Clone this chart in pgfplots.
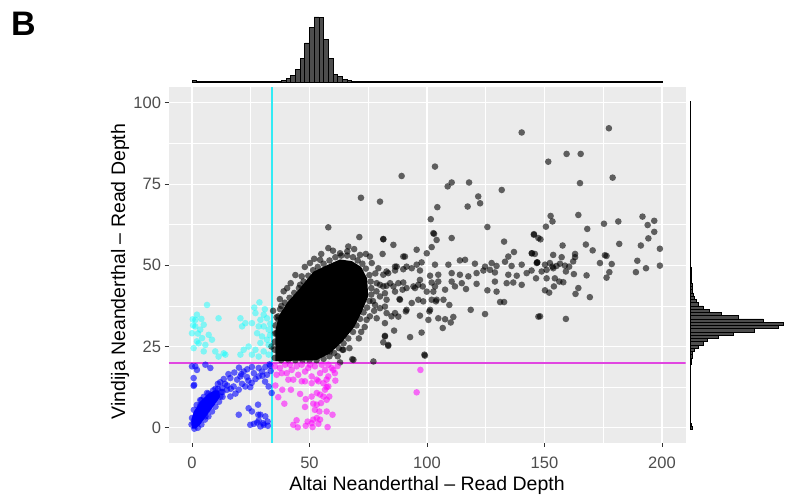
\documentclass[border=0pt]{standalone}
\usepackage{fontspec}
\setmainfont{Liberation Sans}
\usepackage{pgfplots}
\pgfplotsset{compat=1.18}
\definecolor{panelbg}{RGB}{235,235,235}
\definecolor{ticklab}{RGB}{77,77,77}
\definecolor{tickcol}{RGB}{51,51,51}
\definecolor{cyanpt}{RGB}{0,255,255}
\definecolor{bluept}{RGB}{0,0,255}
\definecolor{magpt}{RGB}{255,0,255}
\definecolor{histfill}{RGB}{77,77,77}
\definecolor{cyanline}{RGB}{50,235,245}
\definecolor{magline}{RGB}{225,70,225}
\pgfplotsset{pts/.style 2 args={only marks, mark=*, mark size=3.3pt, color=#1, mark options={fill=#1, fill opacity=#2, draw opacity=0}}}
\begin{document}
\begin{tikzpicture}[x=1pt,y=1pt]
\useasboundingbox (0,0) rectangle (785,500);
\node[anchor=base west, inner sep=0, font=\fontsize{34}{36}\selectfont\bfseries] at (11,464) {B};
\begin{axis}[
  at={(168.5pt,57pt)}, anchor=south west, scale only axis,
  width=517pt, height=356pt,
  xmin=-10, xmax=210, ymin=-4.7, ymax=104.9,
  xtick={0,50,100,150,200}, ytick={0,25,50,75,100},
  minor xtick={25,75,125,175}, minor ytick={12.5,37.5,62.5,87.5},
  grid=both,
  major grid style={white, line width=1.1pt},
  minor grid style={white, line width=0.55pt},
  axis background/.style={fill=panelbg},
  axis line style={draw=none},
  tick align=outside, major tick length=4pt, minor tick length=0pt,
  every tick/.style={tickcol, line width=1pt},
  xtick pos=bottom, ytick pos=left,
  tick label style={font=\fontsize{16.5}{18}\selectfont, text=ticklab, /pgf/number format/assume math mode=true},
  xticklabel style={yshift=-6pt},
  xlabel={Altai Neanderthal – Read Depth},
  ylabel={Vindija Neanderthal – Read Depth},
  every axis x label/.style={at={(axis description cs:0.5,0)}, anchor=base, yshift=-47.8pt, font=\fontsize{19.5}{22}\selectfont},
  every axis y label/.style={at={(axis description cs:-0.0841,0.4817)}, anchor=base, rotate=90, font=\fontsize{19.5}{22}\selectfont},
]
% dense core of the black cloud
\addplot[fill=black, draw=none] coordinates {(35.5,20.5) (35.5,30) (37,34.5) (40.5,38.5) (46,43) (51.6,48) (57.3,50) (63,51.8) (68,51.3) (72,49.5) (74.5,46) (75,40.5) (72,35.3) (69,31) (64,26.5) (58.5,22.8) (53,20.8)};
% black points
\addplot[pts={black}{0.6}] coordinates {
(140.3,90.9) (103.4,80.4) (89.2,77.5) (110.5,75.5) (108.8,74.3) (117.9,75.5) (131.8,73.2) (121.8,71.2) (122.6,69.1) (117.3,68.1) (104.4,67.9) (101.6,64.2) (80,69.6) (71.9,70.8) (125.7,61.8) (103,59.7) (104.1,57.8) (110.5,58.4) (132.8,57.3) (145.5,59.6) (147.4,58.4) (81.4,58.1) (85.7,56.3) (81.1,53.5) (102,55.6) (99.9,53.7) (95.6,54.8) (90.6,52.7) (137,54.1) (144.6,53.7) (134.6,52.7) (146.9,50.9) (146.4,46)
(88.3,39.6) (93.5,38.4) (101,35.8) (103.8,38.9) (107,39.4) (109.5,37.8) (111.2,34.1) (104.8,33.7) (107.7,33.4) (106.7,30.7) (110.1,32.4) (118.6,36.3) (124.7,35) (131.1,38.7) (132.8,38.7) (147.4,34.2) (97,34.5) (100.6,33.2) (86,29.9) (92.8,27.9) (97.7,29.3) (99.1,22.2) (82.1,28.3) (83.5,25.5) (82.1,32.2) (86.4,35.3) (87.8,34.2) (82.1,37.3) (91,35.8)
(87.1,49.6) (91.3,49.6) (95.6,50.2) (97.7,50.9) (103.4,50.2) (109.1,50.2) (114,51.5) (116.2,51.7) (120.4,50.5) (124.7,49.6) (127.5,50.7) (129.6,49.8) (133.2,51.1) (136,49.8) (140.3,50.2) (144.5,48.4) (146.7,50.7)
(81.4,47.1) (83.5,47.6) (86.4,48.4) (89.9,48.8) (93.5,49.1) (97,48.4) (101.3,46.8) (104.8,47.1) (110.5,47.6) (114,47.1) (117.6,46.6) (121.1,47.6) (124,48.4) (126.8,48.6) (128.9,47.8) (134.6,47.1) (138.2,46.8) (142.4,47.6)
(80,44) (82.8,43.7) (85.7,43.5) (89.9,44.7) (94.2,43.5) (97,45.5) (102,44.7) (104.8,45) (110.5,45) (111.9,43.5) (114.8,44.5) (116.6,42.7) (121.1,44.3) (125.7,42.3) (128.9,45) (129.6,41.9) (133.9,44.5) (136.7,44.7) (140.3,44)
(82.1,41.4) (86.4,41.9) (89.6,42.5) (94.9,43) (98.2,43.5) (102.7,41.9) (107.7,42.5)
(177.4,92.2) (159.4,84.3) (165.4,84.3) (151.6,81.9) (179,77) (165.1,75.3) (152.6,65.2) (153.4,63.5) (164.4,65.5) (150.6,61.9) (168.2,61.2) (175.3,62.8) (181.4,63.5) (191.7,65) (193.9,62.4) (196.7,63.7) (196.7,60.3) (194.2,58.3) (191,56.1) (199.1,55.1) (181.8,56.6) (145.5,59.4) (148.3,58) (157.7,56.1) (167.6,56.4) (170.5,54.6) (175.7,53.1) (176.4,52.9) (173.6,50.7) (178.6,50.4) (177.6,47.9) (176.4,46.2) (189.5,51.4) (193.2,49.1) (199.1,49.9) (188.9,47.9) (144.6,53.7) (145.9,53.5) (153.7,53.2) (157.3,52.5) (163,53.5) (163,52.5) (162.2,51.2) (146.9,50.9) (150.2,50.2) (152.3,50.7) (153.4,49.6) (155.1,49.8) (156.6,50.5) (158.7,49.9) (160.5,49.6) (148.8,48.1) (150.9,48.6) (153.7,49.1) (159.1,48.1) (162.5,47.3) (167.9,46.9) (150.9,46) (154.4,46) (156.3,45) (158,44.8) (150.2,42.3) (152,41.6) (154,43.5) (164.4,43) (163.2,41.2) (169.3,40.2) (148.1,34.3) (159.1,33.5)
(58,61.7) (71.2,58.7) (58,55.3) (66.5,55.8) (66.1,54.3) (63,53.7) (50.2,50.7) (54.5,51.7) (46.7,46.6) (46,44) (37.4,39.6) (36.7,34.3) (36.7,33.2) (36,29.1) (71.5,53.2) (75.7,52.7) (76.5,50.7) (81.4,58) (79.3,49.1) (82.8,48.1) (86.4,49.6) (89.9,52.7) (102.7,59.9) (78.6,44.5) (81.4,43.5) (84.3,44.5) (87.8,44.5) (91.3,43) (96.3,44) (99.9,41.9) (103.4,43.5) (80,40.4) (82.8,39.4) (88.5,39.4) (96.3,39.4) (98.4,38.9) (102,39.4) (104.1,39.4) (77.9,37.8) (80,36.8) (82.8,35.3) (84.9,34.3) (91.3,36.3) (101.3,36.3) (75.7,34.3) (74.3,33.2) (78.6,33.7) (82.1,28.1) (81.4,26.3) (83.5,25.2) (98.9,22.5) (64.4,24) (68.7,20.9) (77.2,20.4) (58.7,23.5) (64,24) (68.2,21.1) (63,20.1)
(35.2,21.5) (35.2,24) (35.3,26.5) (35.3,29) (35.5,31.5) (36,34) (37.5,36.5) (39.5,38.5) (41.5,40) (43.5,41.5) (45.5,43) (47.5,45) (49.5,46.8) (51.5,48.5) (53.5,49.5) (56,50.5) (58.5,51.5) (61,52.5) (63.5,53) (66,53) (68.5,52.5) (70.5,51.5) (72.5,50.5) (74,49) (75.5,47) (76,45) (76.3,43) (76.3,41) (75.5,39) (74.5,37) (73,35.5) (71.5,33.5) (70,31.5) (68.5,29.5) (66.5,27.5) (64.5,26) (62.5,24.5) (60.5,23) (58.5,22) (56,21.2) (53,20.8) (50,20.8) (47,20.8) (44,20.8) (41,20.8) (38,20.8)
(39,42) (42,44.5) (44,47) (48,49.5) (52,52) (60,54.5) (69,55) (74,53.5) (78,47.5) (78.5,42) (77.5,36) (73.5,31) (71,27.5) (67,24.5) (62,22) (38,37.5) (33.8,25) (34.5,36) (40.5,43) (55,53.5) (77,39) (72,29.5)
};
% cyan points
\addplot[pts={cyanpt}{0.45}] coordinates {
(6.4,37.8) (28.7,38.6) (0.3,33.4) (2.1,34.8) (1.4,31.2) (3.5,30.2) (5,31.7) (11.3,33.7) (0,29.1) (2.1,26.6) (4.3,27.6) (5.7,25.5) (8.5,27.1) (0.7,24.5) (5,23.5) (9.9,23.5) (13.5,22.9) (11.3,21.9) (14.2,22.5) (20.6,33.7) (21.3,31.2) (22.7,32.2) (27,35.3) (29.1,33.2) (30.5,34.8) (31.9,33.7) (25.5,32.2) (28.4,31.2) (30.5,31.2) (32.6,30.2) (27.7,29.1) (29.8,28.1) (31.9,27.1) (29.1,26.1) (32.6,25.5) (27,24) (30.5,23.5) (32.6,22.5) (24.1,25) (22,24) (20.6,22.5) (25.5,22.5) (28.4,21.9) (2.8,26) (7.1,28.6) (1.4,33.2) (0.5,31.5) (33.2,28.5) (33.3,32) (31,36.5) (26.5,37) (2.5,29) (4,33.5)
};
% blue core and points
\addplot[fill=bluept, draw=none] coordinates {(0,-0.3) (-0.3,2.5) (0.8,5) (3.5,8) (6.5,10.2) (9.5,11.5) (11.5,11.3) (12,9.5) (9,6.5) (6,3.5) (3.5,1) (1.5,-0.3)};
\addplot[pts={bluept}{0.6}] coordinates {
(1.4,18.9) (5.7,19.4) (7.8,18.4) (2.1,17.8) (0.7,15.3) (0.7,12.9) (22,17.3) (25.5,18.7) (28.4,18.4) (31.2,18.7) (33.3,19.1) (20.6,15.8) (23.4,15.6) (26.3,16.8) (28.4,15.8) (31.9,16.3) (29.8,17.3) (13.5,15) (16.3,15.3) (19.2,14.8) (17.7,12.7) (21.3,13.5) (22.7,12.7) (24.8,12.5) (32.6,12.7) (12.8,12.2) (14.9,11.7) (19.9,11.7) (16.3,9.6) (12.1,9.6) (9.2,9.1) (19.9,4) (25.5,5) (24.1,6) (28.1,7.1) (29.1,4) (24.8,0.9) (26.3,1.2) (27.7,1.6) (29.1,0.4) (30.5,0.9) (32.3,0.6) (31.2,3.5) (28.4,2.2) (5.7,6.6) (5,5) (8.5,7.6) (10.6,10.7) (6.4,10.7) (3.6,7) (2.1,4.5) (2.8,2.5) (0.7,1.4) (5.7,3.5) (0,18.9) (0.9,13.2) (25.4,13.8) (31.1,14.2) (33.9,10.7) (28.2,4) (30.3,1.4) (32.2,1.9) (33.5,17.5) (33,19.5) (18,17) (10,12) (8,10) (4,8.5) (11,13.5) (13,11) (15,13)
(-0.2,1) (0,3) (0.8,5.5) (2,7) (3.5,8.5) (5,9.5) (7,10.5) (9,11.5) (11,12) (12.5,11) (13,9.5) (11.5,8) (10,6.5) (8.5,5) (7,3.5) (5.5,2.5) (4,1) (2.5,0) (1,-0.3)
(14,13.5) (16.5,12) (18.5,10.5) (21,16.5) (23.5,18) (24,14.5) (27,15) (30,16) (15.5,16.5) (12,14) (20,18.5)
};
% magenta points
\addplot[pts={magpt}{0.55}] coordinates {
(97.2,17.8) (95.6,10.9) (57.3,12.5) (38.4,11.7) (42.1,11.7) (36.7,9.4) (46,10.4) (39.3,7.4) (48.4,8.8) (48.1,6.4) (54.5,10.2) (55.9,9.6) (58.4,9.6) (57.3,8.6) (51.6,7.4) (53.1,7.1) (54.9,7.6) (52.3,5.5) (54.2,5) (57.3,5) (59.8,4) (44.5,2.3) (49.2,1.9) (51.6,2.5) (53.1,3) (54.5,2.5) (50.9,1.4) (53.8,1.2) (57.7,0.2) (51.3,0.2) (48.4,0.6) (45,0.1) (43.1,0.9) (53.1,10.7) (50.9,9.6) (58,12.7) (56.6,11.7) (35.3,18.9) (38.2,16.8) (39.6,19.4) (42.4,17.8) (44.5,18.9) (45.2,16.3) (46.7,19.4) (48.1,17.3) (49.5,18.4) (50.9,15.8) (52.3,18.9) (53.1,14.8) (54.5,16.8) (55.2,19.4) (56.6,17.8) (58,15.8) (59.4,18.4) (60.8,16.8) (60.1,17.8) (37.4,18.4) (43.1,14.8) (48.1,14.3) (53.8,14.3) (57.3,14.8) (41,14.8) (50.9,13.7) (40.3,16.8) (36,16.3) (41.7,19.4) (50.2,19.4) (58,19.4) (46.7,14.3) (55.9,13.7) (62,19) (61,14.5) (35.5,13)
};
% threshold lines
\addplot[color=cyanline, line width=1.4pt] coordinates {(34,-4.7) (34,104.9)};
\addplot[color=magline, line width=1.6pt] coordinates {(-10,20) (210,20)};
\end{axis}
% top marginal histogram
\begin{axis}[at={(168.5pt,418pt)}, anchor=south west, scale only axis,
  width=517pt, height=65pt, xmin=-10, xmax=210, ymin=0, ymax=1, hide axis, clip=false]
\addplot[ybar interval, fill=histfill, draw=black, line width=0.8pt] coordinates {
(0,0.03) (2,0.015) (4,0.01) (6,0.008) (8,0.006) (10,0.005) (12,0.005) (14,0.005) (16,0.005) (18,0.005) (20,0.005) (22,0.005) (24,0.005) (26,0.005) (28,0.006) (30,0.007) (32,0.008) (34,0.01) (36,0.015) (38,0.025) (40,0.05) (42,0.10) (44,0.19) (46,0.36) (48,0.60) (50,0.84) (52,1.0) (54,0.99) (56,0.65) (58,0.36) (60,0.12) (62,0.08) (64,0.04) (66,0.025) (68,0.015) (70,0.01) (72,0.008) (74,0.006) (76,0.005) (78,0.005) (80,0.004) (82,0.004) (84,0.004) (86,0.004) (88,0.004) (90,0.004) (92,0.004) (94,0.004) (96,0.004) (98,0.004) (100,0.003) (102,0.003) (104,0.003) (106,0.003) (108,0.003) (110,0.003) (112,0.003) (114,0.003) (116,0.003) (118,0.003) (120,0.003) (122,0.003) (124,0.003) (126,0.003) (128,0.003) (130,0.003) (132,0.003) (134,0.003) (136,0.003) (138,0.003) (140,0.003) (142,0.003) (144,0.003) (146,0.003) (148,0.003) (150,0.003) (152,0.003) (154,0.003) (156,0.003) (158,0.003) (160,0.003) (162,0.003) (164,0.003) (166,0.003) (168,0.003) (170,0.003) (172,0.003) (174,0.003) (176,0.003) (178,0.003) (180,0.003) (182,0.003) (184,0.003) (186,0.003) (188,0.003) (190,0.003) (192,0.003) (194,0.003) (196,0.003) (198,0.003) (200,0)
};
\end{axis}
% right marginal histogram
\begin{axis}[at={(690pt,57pt)}, anchor=south west, scale only axis,
  width=93pt, height=356pt, xmin=0, xmax=1, ymin=-4.7, ymax=104.9, hide axis, clip=false]
\addplot[xbar interval, fill=histfill, draw=black, line width=0.6pt] coordinates {
(0.02,-0.5) (0.01,0.5) (0.006,1.5) (0.006,2.5) (0.006,3.5) (0.006,4.5) (0.006,5.5) (0.006,6.5) (0.006,7.5) (0.006,8.5) (0.006,9.5) (0.006,10.5) (0.006,11.5) (0.006,12.5) (0.006,13.5) (0.006,14.5) (0.006,15.5) (0.006,16.5) (0.006,17.5) (0.008,18.5) (0.01,19.5) (0.012,20.5) (0.02,21.5) (0.03,22.5) (0.05,23.5) (0.09,24.5) (0.14,25.5) (0.19,26.5) (0.30,27.5) (0.47,28.5) (0.69,29.5) (0.95,30.5) (1.0,31.5) (0.79,32.5) (0.52,33.5) (0.34,34.5) (0.21,35.5) (0.14,36.5) (0.09,37.5) (0.07,38.5) (0.05,39.5) (0.035,40.5) (0.03,41.5) (0.025,42.5) (0.02,43.5) (0.018,44.5) (0.015,45.5) (0.012,46.5) (0.01,47.5) (0.009,48.5) (0.007,49.5) (0.007,50.5) (0.007,51.5) (0.007,52.5) (0.007,53.5) (0.007,54.5) (0.007,55.5) (0.007,56.5) (0.007,57.5) (0.007,58.5) (0.005,59.5) (0.005,60.5) (0.005,61.5) (0.005,62.5) (0.005,63.5) (0.005,64.5) (0.005,65.5) (0.005,66.5) (0.005,67.5) (0.005,68.5) (0.005,69.5) (0.005,70.5) (0.005,71.5) (0.005,72.5) (0.005,73.5) (0.005,74.5) (0.005,75.5) (0.005,76.5) (0.005,77.5) (0.005,78.5) (0.005,79.5) (0.005,80.5) (0.005,81.5) (0.005,82.5) (0.005,83.5) (0.005,84.5) (0.005,85.5) (0.005,86.5) (0.005,87.5) (0.005,88.5) (0.005,89.5) (0.005,90.5) (0.005,91.5) (0.005,92.5) (0.005,93.5) (0.005,94.5) (0.005,95.5) (0.005,96.5) (0.005,97.5) (0.005,98.5) (0.005,99.5) (0,100.5)
};
\end{axis}
\end{tikzpicture}
\end{document}
